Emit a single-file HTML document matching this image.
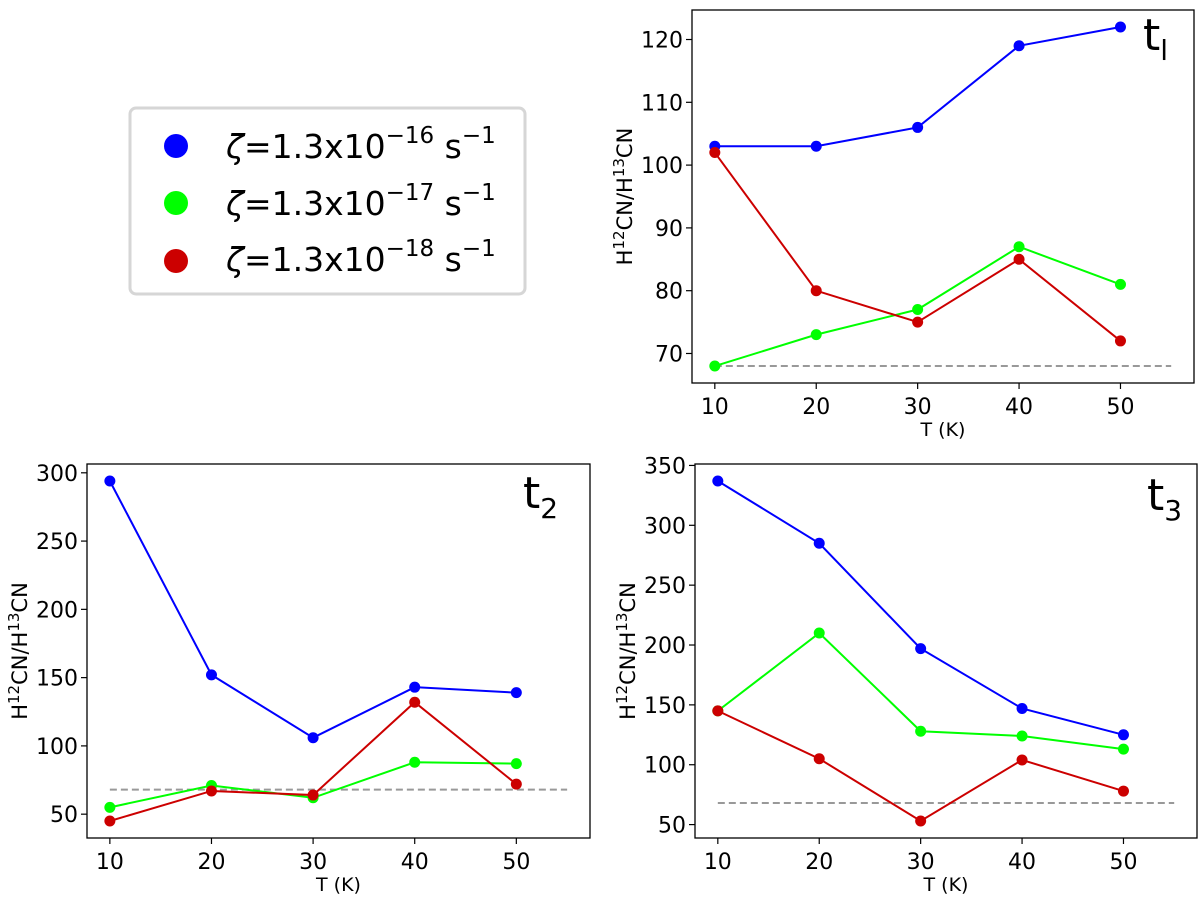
<!DOCTYPE html>
<html><head><meta charset="utf-8"><style>
body{margin:0;background:#fff;}
svg{display:block;font-family:"DejaVu Sans","Liberation Sans",sans-serif;}
</style></head><body>
<svg id="chart" width="1200" height="898" viewBox="0 0 1200 898">
<g id="legend">
<rect x="130" y="108" width="395" height="186" rx="6" fill="#fff" stroke="#d6d6d6" stroke-width="3"/>
<g><circle cx="176" cy="146" r="12" fill="#0000ff"/><text x="226" y="158" font-size="33"><tspan font-style="italic">ζ</tspan>=1.3x10<tspan dy="-15" font-size="23">−16</tspan><tspan dy="15"> s</tspan><tspan dy="-15" font-size="23">−1</tspan></text></g>
<g><circle cx="176" cy="203" r="12" fill="#00ff00"/><text x="226" y="215" font-size="33"><tspan font-style="italic">ζ</tspan>=1.3x10<tspan dy="-15" font-size="23">−17</tspan><tspan dy="15"> s</tspan><tspan dy="-15" font-size="23">−1</tspan></text></g>
<g><circle cx="176" cy="261" r="12" fill="#cc0000"/><text x="226" y="271" font-size="33"><tspan font-style="italic">ζ</tspan>=1.3x10<tspan dy="-15" font-size="23">−18</tspan><tspan dy="15"> s</tspan><tspan dy="-15" font-size="23">−1</tspan></text></g>
</g>
</svg>
<script>
const temps = [10, 20, 30, 40, 50];
const xTicks = [10, 20, 30, 40, 50];
const t1Blue = [103, 103, 106, 119, 122];
const t1Green = [68, 73, 77, 87, 81];
const t1Red = [102, 80, 75, 85, 72];
const t1Ticks = [70, 80, 90, 100, 110, 120];
const t2Blue = [294, 152, 106, 143, 139];
const t2Green = [55, 71, 62, 88, 87];
const t2Red = [45, 67, 64, 132, 72];
const t2Ticks = [50, 100, 150, 200, 250, 300];
const t3Blue = [337, 285, 197, 147, 125];
const t3Green = [145, 210, 128, 124, 113];
const t3Red = [145, 105, 53, 104, 78];
const t3Ticks = [50, 100, 150, 200, 250, 300, 350];
const refRatio = 68;
const refRange = [10, 55];

const NS = 'http://www.w3.org/2000/svg';
const svg = document.getElementById('chart');
function mk(tag, attrs, parent){const e=document.createElementNS(NS,tag);for(const k in attrs)e.setAttribute(k,attrs[k]);(parent||svg).appendChild(e);return e;}

function panel(id, box, series, ticks, labelPos, labelSub){
  const g = mk('g',{});
  
  
  const all = series.flatMap(s=>s.vals).concat([refRatio]);
  const mn = Math.min(...all), mx = Math.max(...all), m=(mx-mn)*0.05;
  const y0 = mn-m, y1 = mx+m;
  const xm = (refRange[1]-refRange[0])*0.05, x0=refRange[0]-xm, x1=refRange[1]+xm;
  const X = v => box.l + (v-x0)/(x1-x0)*(box.r-box.l);
  const Y = v => box.b - (v-y0)/(y1-y0)*(box.b-box.t);
  const frame = mk('rect',{x:box.l,y:box.t,width:box.r-box.l,height:box.b-box.t,fill:'none',stroke:'#000','stroke-width':1.3},g);
  
  
  xTicks.forEach(t=>{
    mk('line',{x1:X(t),x2:X(t),y1:box.b,y2:box.b+6,stroke:'#000','stroke-width':1.2},g);
    const tx = mk('text',{x:X(t),y:box.b+31,'font-size':22,'text-anchor':'middle'},g);
    tx.textContent = t;
    
    
  });
  ticks.forEach(t=>{
    mk('line',{x1:box.l-6,x2:box.l,y1:Y(t),y2:Y(t),stroke:'#000','stroke-width':1.2},g);
    const tx = mk('text',{x:box.l-9,y:Y(t)+8,'font-size':22,'text-anchor':'end'},g);
    tx.textContent = t;
    
    
  });
  const xt = mk('text',{x:(box.l+box.r)/2,y:box.b+53,'font-size':19,'text-anchor':'middle'},g);
  xt.textContent = 'T (K)';
  
  
  const cy=(box.t+box.b)/2, lx=box.l-60;
  const yt = mk('text',{x:lx,y:cy,'font-size':21,'text-anchor':'middle',transform:`rotate(-90 ${lx} ${cy})`},g);
  yt.innerHTML = 'H<tspan dy="-8" font-size="15">12</tspan><tspan dy="8">CN/H</tspan><tspan dy="-8" font-size="15">13</tspan><tspan dy="8">CN</tspan>';
  
  
  const ref = mk('line',{x1:X(refRange[0]),x2:X(refRange[1]),y1:Y(refRatio),y2:Y(refRatio),stroke:'#999','stroke-width':2,'stroke-dasharray':'7,4'},g);
  
  
  series.forEach(s=>{
    const pl = mk('polyline',{points:s.vals.map((v,i)=>X(temps[i])+','+Y(v)).join(' '),fill:'none',stroke:s.c,'stroke-width':2},g);
    
    
    s.vals.forEach((v,i)=>{
      const c = mk('circle',{cx:X(temps[i]),cy:Y(v),r:5.5,fill:s.c},g);
      
      
    });
  });
  const lab = mk('text',{x:labelPos[0],y:labelPos[1],'font-size':44},g);
  lab.innerHTML = 't<tspan dy="10" font-size="28">'+labelSub+'</tspan>';
  
  
}
const B='#0000ff', G='#00ff00', R='#cc0000';
panel('t1',{l:692,r:1194,t:10,b:383},[{vals:t1Blue,c:B,n:'blue'},{vals:t1Green,c:G,n:'green'},{vals:t1Red,c:R,n:'red'}],t1Ticks,[1143,50],'l');
panel('t2',{l:87,r:590,t:464,b:838},[{vals:t2Blue,c:B,n:'blue'},{vals:t2Green,c:G,n:'green'},{vals:t2Red,c:R,n:'red'}],t2Ticks,[523,508],'2');
panel('t3',{l:695,r:1197,t:464,b:838},[{vals:t3Blue,c:B,n:'blue'},{vals:t3Green,c:G,n:'green'},{vals:t3Red,c:R,n:'red'}],t3Ticks,[1147,510],'3');
</script>
</body></html>
